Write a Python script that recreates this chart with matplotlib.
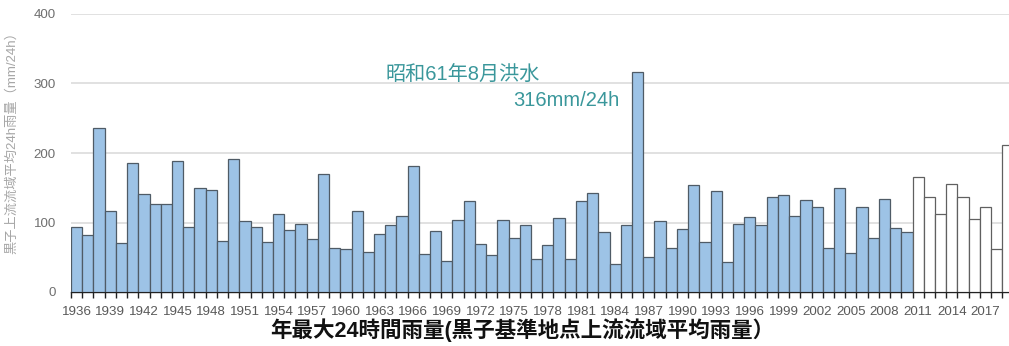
import numpy as np
import matplotlib.pyplot as plt
from matplotlib.ticker import FixedLocator

plt.rcParams['font.family'] = ['Liberation Sans', 'Noto Sans CJK JP', 'DejaVu Sans']

# annual max 24h rainfall (mm/24h), observed (blue) and recent years (white)
years_obs = list(range(1936, 2011))
rain_obs = [93, 82, 236, 117, 70, 185, 141, 126, 127, 188,
            94, 149, 147, 73, 192, 102, 94, 72, 112, 89,
            98, 76, 170, 63, 62, 117, 58, 84, 97, 110,
            182, 55, 88, 45, 104, 131, 69, 53, 104, 77,
            96, 48, 67, 106, 47, 131, 142, 86, 41, 96,
            316, 50, 102, 64, 91, 154, 72, 145, 43, 98,
            108, 96, 137, 139, 110, 132, 122, 64, 150, 56,
            123, 78, 134, 92, 86]
years_new = list(range(2011, 2020))
rain_new = [165, 137, 112, 156, 136, 105, 122, 62, 212]

years = years_obs + years_new
tick_years = [y for y in years if (y - 1936) % 3 == 0]

fig = plt.figure(figsize=(10.09, 3.46), dpi=100)
ax = fig.add_axes([71 / 1009, 54 / 346, 942.5 / 1009, 278 / 346])

x_obs = np.arange(len(years_obs))
x_new = np.arange(len(years_obs), len(years))
ax.bar(x_obs, rain_obs, width=1.0, color='#9dc3e6', edgecolor='#4f5b66', linewidth=0.9, zorder=3)
ax.bar(x_new, rain_new, width=1.0, color='white', edgecolor='#606060', linewidth=0.9, zorder=3)

ax.set_xlim(-0.5, len(years) - 0.5)
ax.set_ylim(0, 400)
ax.set_yticks([0, 100, 200, 300, 400])
ax.yaxis.grid(True, color='#dedede', linewidth=1.3, zorder=0)
ax.set_axisbelow(True)

# labels every 3 years centered on bars, tick marks at every bar edge
ax.set_xticks([years.index(y) for y in tick_years])
ax.set_xticklabels([str(y) for y in tick_years])
ax.xaxis.set_minor_locator(FixedLocator(np.arange(-0.5, len(years), 1.0)))
ax.tick_params(axis='x', which='major', length=0, pad=10, labelsize=9.6, labelcolor='#595959')
ax.tick_params(axis='x', which='minor', length=4, width=1.0, color='#222222', direction='out')
ax.tick_params(axis='y', length=0, pad=11, labelsize=9.6, labelcolor='#6f6f6f')

for s in ['top', 'right', 'left']:
    ax.spines[s].set_visible(False)
ax.spines['bottom'].set_color('#222222')
ax.spines['bottom'].set_linewidth(1.0)

ax.set_ylabel('黒子上流流域平均24h雨量（mm/24h）', fontsize=9.5, color='#a6a6a6', labelpad=12)
ax.yaxis.set_label_coords(-53 / 942.5, 0.55)

fig.text(0.518, 0.045, '年最大24時間雨量(黒子基準地点上流流域平均雨量）',
         ha='center', va='center', fontsize=15.5, fontweight='bold', color='#111111')

# 1986 flood annotation
i86 = years.index(1986)
ax.text(27.5, 312, '昭和61年8月洪水', fontsize=14.5, color='#3a979b', va='center', ha='left')
ax.text(i86 - 1.6, 275, f'{rain_obs[i86]}mm/24h', fontsize=14.5, color='#3a979b', va='center', ha='right')

fig.savefig('out.png', dpi=100)
